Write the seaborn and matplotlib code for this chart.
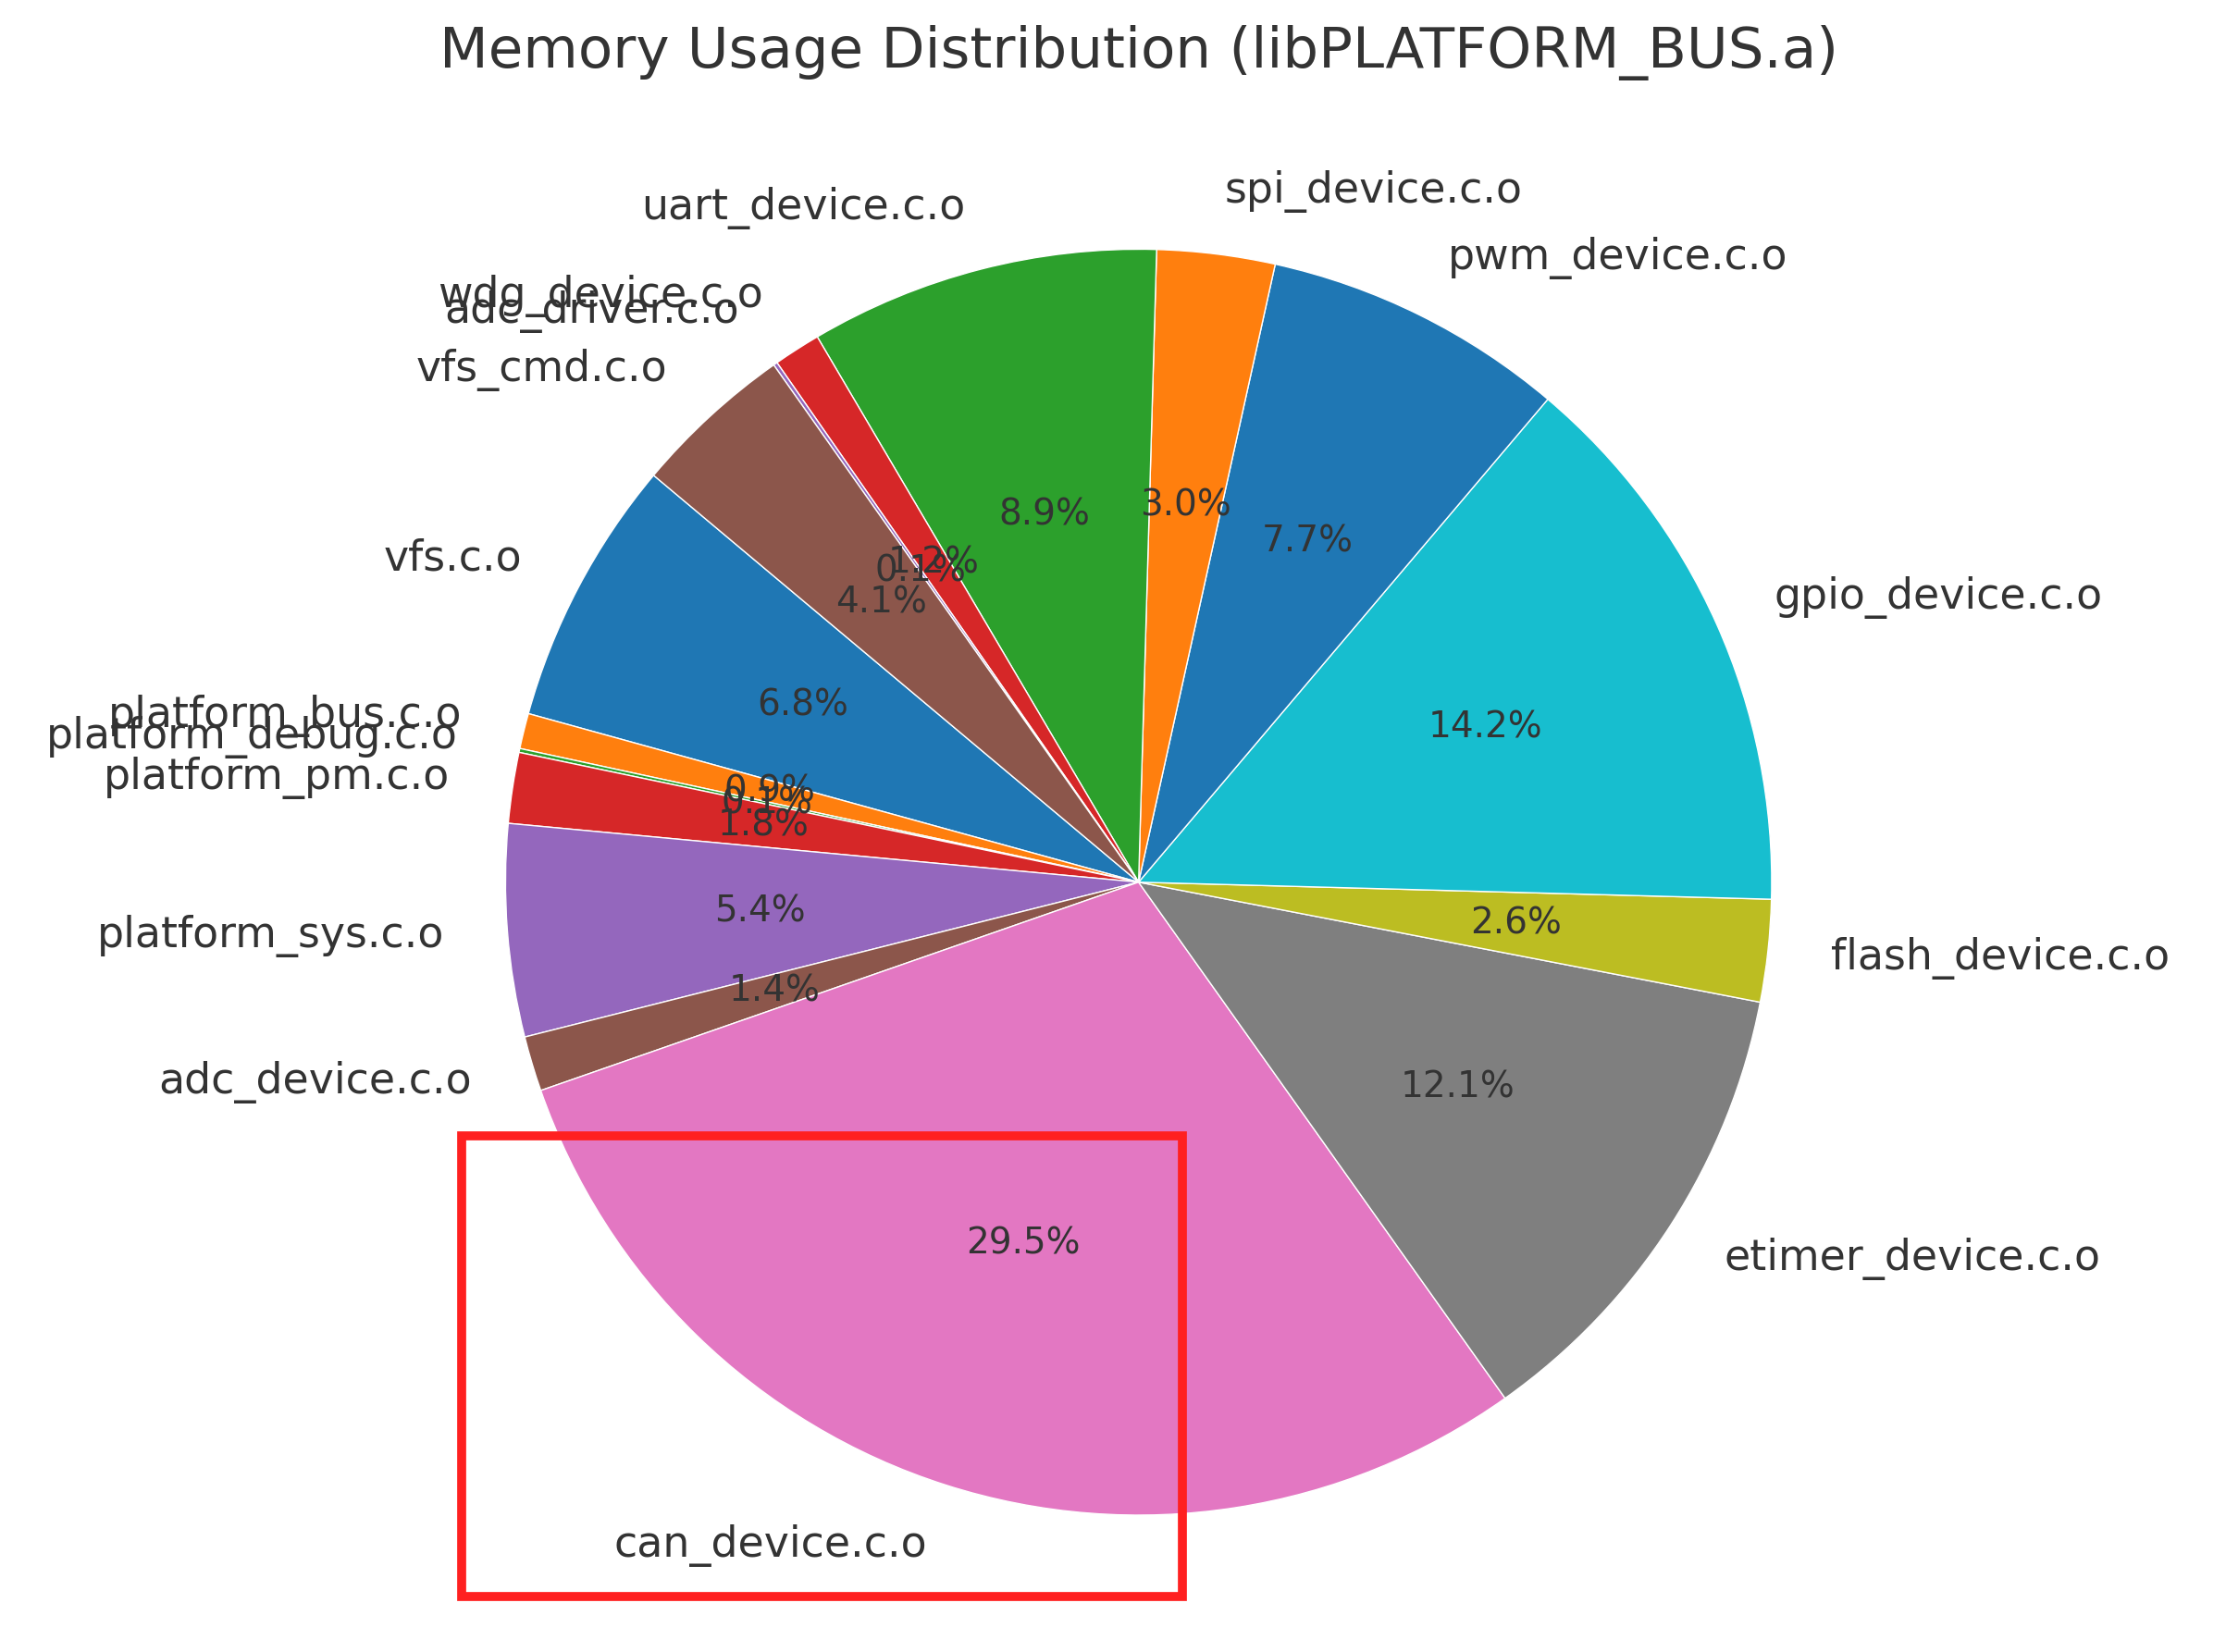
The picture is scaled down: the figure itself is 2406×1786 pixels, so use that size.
import matplotlib
matplotlib.use('Agg')
import matplotlib.pyplot as plt
import matplotlib.patches as mpatches
import seaborn as sns

# object files, in the order they were plotted (counterclockwise from vfs.c.o)
names = ['vfs.c.o', 'platform_bus.c.o', 'platform_debug.c.o', 'platform_pm.c.o',
         'platform_sys.c.o', 'adc_device.c.o', 'can_device.c.o', 'etimer_device.c.o',
         'flash_device.c.o', 'gpio_device.c.o', 'pwm_device.c.o', 'spi_device.c.o',
         'uart_device.c.o', 'wdg_device.c.o', 'adc_driver.c.o', 'vfs_cmd.c.o']
shares = [6.8, 0.9, 0.1, 1.8, 5.4, 1.4, 29.4, 12.1, 2.6, 14.2, 7.7, 3.0, 8.9, 1.2, 0.1, 4.1]

sns.set_theme(style='white')
plt.rcParams['font.family'] = ['DejaVu Sans']

fig = plt.figure(figsize=(24.06, 17.86), dpi=100)
fig.patch.set_facecolor('white')
ax = fig.add_axes([0.156, -0.013, 0.711, 0.958])

colors = sns.color_palette('tab10', 10)
wedges, texts, autotexts = ax.pie(shares, labels=names, colors=colors,
                                  autopct='%1.1f%%', startangle=140,
                                  textprops={'fontsize': 33, 'color': '.2'})
for t in autotexts:
    t.set_fontsize(28)
ax.set_aspect('equal')

fig.text(0.5115, 0.968, 'Memory Usage Distribution (libPLATFORM_BUS.a)',
         ha='center', va='center', fontsize=44, color='.2')

# highlight box around can_device.c.o
box = mpatches.Rectangle((0.2073, 0.0335), 0.5312 - 0.2073, 0.3127 - 0.0335,
                         transform=fig.transFigure, fill=False,
                         edgecolor='#ff2020', linewidth=7)
fig.patches.append(box)

fig.savefig('out.png', dpi=100)
